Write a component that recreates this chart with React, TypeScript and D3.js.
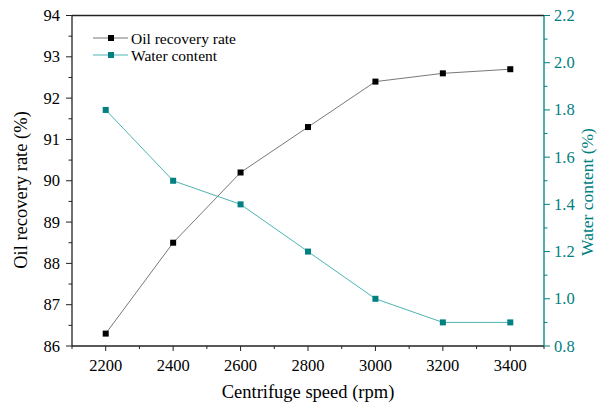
import React from "react";
import * as d3 from "d3";

const speeds = [2200, 2400, 2600, 2800, 3000, 3200, 3400];
const oilRecovery = [86.3, 88.5, 90.2, 91.3, 92.4, 92.6, 92.7];
const waterContent = [1.8, 1.5, 1.4, 1.2, 1.0, 0.9, 0.9];
const xTicks = [2200, 2400, 2600, 2800, 3000, 3200, 3400];
const leftTicks = [86, 87, 88, 89, 90, 91, 92, 93, 94];
const rightTicks = [0.8, 1.0, 1.2, 1.4, 1.6, 1.8, 2.0, 2.2];

const W = 599, H = 408;
const L = 72, R = 544, T = 15.5, B = 346;
const TEAL = "#008080";
const FONT = "'Liberation Serif', 'Times New Roman', serif";

export default function App() {
  const x = d3.scaleLinear().domain([2100, 3500]).range([L, R]);
  const yL = d3.scaleLinear().domain([86, 94]).range([B, T]);
  const yR = d3.scaleLinear().domain([0.8, 2.2]).range([B, T]);
  const oilLine = d3.line<number>().x((_, i) => x(speeds[i])).y((d) => yL(d))(oilRecovery) || "";
  const waterLine = d3.line<number>().x((_, i) => x(speeds[i])).y((d) => yR(d))(waterContent) || "";
  const xMinor = d3.range(2100, 3501, 100).filter((v) => !xTicks.includes(v));
  const lMinor = d3.range(86.5, 94, 1);
  const rMinor = d3.range(0.9, 2.2, 0.2);
  const ms = 6;
  return (
    <svg width={W} height={H} style={{ display: "block", position: "absolute", left: 0, top: 0 }} fontFamily={FONT}>
      <rect width={W} height={H} fill="#fff" />
      {/* frame */}
      <line x1={L} x2={R} y1={T} y2={T} stroke="#222" strokeWidth={1.3} />
      <line x1={L} x2={R} y1={B} y2={B} stroke="#222" strokeWidth={1.3} />
      <line x1={L} x2={L} y1={T} y2={B} stroke="#222" strokeWidth={1.3} />
      <line x1={R} x2={R} y1={T} y2={B} stroke={TEAL} strokeWidth={1.3} />
      {/* x ticks */}
      {xTicks.map((v) => (
        <g key={v}>
          <line x1={x(v)} x2={x(v)} y1={B} y2={B + 5} stroke="#222" />
          <text x={x(v)} y={B + 25} textAnchor="middle" fontSize={16.5}>{v}</text>
        </g>
      ))}
      {xMinor.map((v) => (
        <line key={v} x1={x(v)} x2={x(v)} y1={B} y2={B + 3} stroke="#222" />
      ))}
      {/* left ticks */}
      {leftTicks.map((v) => (
        <g key={v}>
          <line x1={L - 6} x2={L} y1={yL(v)} y2={yL(v)} stroke="#222" />
          <text x={L - 12} y={yL(v) + 5.5} textAnchor="end" fontSize={16.5}>{v}</text>
        </g>
      ))}
      {lMinor.map((v) => (
        <line key={v} x1={L - 3.5} x2={L} y1={yL(v)} y2={yL(v)} stroke="#222" />
      ))}
      {/* right ticks */}
      {rightTicks.map((v) => (
        <g key={v}>
          <line x1={R} x2={R + 6} y1={yR(v)} y2={yR(v)} stroke={TEAL} />
          <text x={R + 10} y={yR(v) + 5.5} textAnchor="start" fontSize={16.5} fill={TEAL}>{v.toFixed(1)}</text>
        </g>
      ))}
      {rMinor.map((v) => (
        <line key={v} x1={R} x2={R + 3.5} y1={yR(v)} y2={yR(v)} stroke={TEAL} />
      ))}
      {/* axis titles */}
      <text x={308} y={398} textAnchor="middle" fontSize={18.5}>Centrifuge speed (rpm)</text>
      <text transform={`translate(27,190) rotate(-90)`} textAnchor="middle" fontSize={18.5}>Oil recovery rate (%)</text>
      <text transform={`translate(593,192) rotate(-90)`} textAnchor="middle" fontSize={17.5} fill={TEAL}>Water content (%)</text>
      {/* lines */}
      <path d={oilLine} fill="none" stroke="#555" strokeWidth={0.8} />
      <path d={waterLine} fill="none" stroke="#4fb3b3" strokeWidth={1} />
      {oilRecovery.map((v, i) => (
        <rect key={i} x={x(speeds[i]) - ms / 2} y={yL(v) - ms / 2} width={ms} height={ms} fill="#000" />
      ))}
      {waterContent.map((v, i) => (
        <rect key={i} x={x(speeds[i]) - ms / 2} y={yR(v) - ms / 2} width={ms} height={ms} fill={TEAL} />
      ))}
      {/* legend */}
      <g>
        <line x1={93} x2={128} y1={38} y2={38} stroke="#555" strokeWidth={0.8} />
        <rect x={111 - 3} y={35} width={6} height={6} fill="#000" />
        <text x={131} y={44} fontSize={15.5}>Oil recovery rate</text>
        <line x1={93} x2={128} y1={55} y2={55} stroke="#4fb3b3" strokeWidth={1} />
        <rect x={111 - 3} y={52} width={6} height={6} fill={TEAL} />
        <text x={131} y={61} fontSize={15.5}>Water content</text>
      </g>
    </svg>
  );
}
